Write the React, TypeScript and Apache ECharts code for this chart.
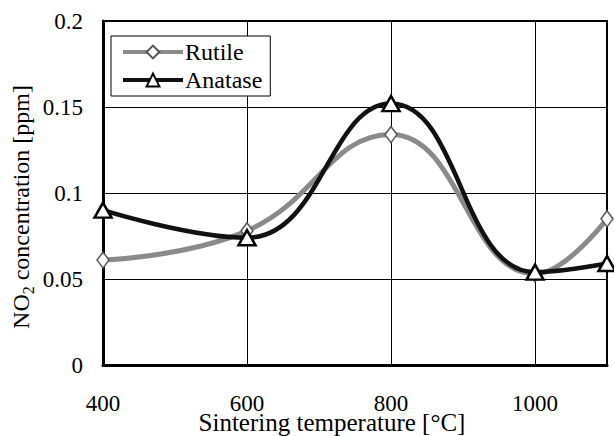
import React, { useEffect, useRef } from "react";
import * as echarts from "echarts";

const temperatures = [400, 600, 800, 1000, 1100];
const rutile = [0.061, 0.078, 0.134, 0.053, 0.085];
const anatase = [0.09, 0.074, 0.152, 0.054, 0.059];
const xTicks = [400, 600, 800, 1000];
const seriesNames = ["Rutile", "Anatase"];

const FONT = "'Liberation Serif', 'Times New Roman', serif";

export default function App() {
  const ref = useRef<HTMLDivElement>(null);
  useEffect(() => {
    if (!ref.current) return;
    const chart = echarts.init(ref.current, undefined, { renderer: "svg" });
    const pair = (ys: number[]) => temperatures.map((t, i) => [t, ys[i]]);
    chart.setOption({
      animation: false,
      backgroundColor: "#fff",
      grid: {
        left: 103,
        right: 7,
        top: 21,
        bottom: 71,
        show: true,
        borderColor: "#000",
        borderWidth: 2,
        backgroundColor: "transparent",
      },
      legend: {
        orient: "vertical",
        left: 111,
        top: 36,
        data: seriesNames,
        backgroundColor: "#fff",
        borderColor: "#000",
        borderWidth: 1,
        borderRadius: 0,
        padding: [3, 8, 3, 10],
        itemGap: 2,
        itemWidth: 60,
        itemHeight: 16,
        lineStyle: { width: 4 },
        textStyle: {
          fontFamily: FONT,
          fontSize: 24,
          lineHeight: 26,
          color: "#000",
          padding: [0, 0, 0, -3],
        },
      },
      xAxis: {
        type: "value",
        min: 400,
        max: 1100,
        interval: 200,
        axisLine: { show: true, onZero: false, lineStyle: { color: "#000", width: 3 } },
        axisTick: { show: false },
        splitLine: { show: true, lineStyle: { color: "#000", width: 1 } },
        axisLabel: {
          show: true,
          margin: 27,
          showMaxLabel: false,
          fontFamily: FONT,
          fontSize: 23,
          color: "#000",
          formatter: (v: number) => (xTicks.includes(v) ? String(v) : ""),
        },
      },
      yAxis: {
        type: "value",
        min: 0,
        max: 0.2,
        interval: 0.05,
        axisLine: { show: true, lineStyle: { color: "#000", width: 3 } },
        axisTick: { show: false },
        splitLine: { show: true, lineStyle: { color: "#000", width: 1 } },
        axisLabel: {
          margin: 20,
          fontFamily: FONT,
          fontSize: 23,
          color: "#000",
          formatter: (v: number) => String(Math.round(v * 100) / 100),
        },
      },
      graphic: [
        {
          type: "text",
          x: 332,
          y: 422,
          style: {
            text: "Sintering temperature [°C]",
            fontFamily: FONT,
            fontSize: 25,
            fill: "#000",
            align: "center",
            verticalAlign: "middle",
          },
        },
        {
          type: "text",
          x: 21,
          y: 207,
          rotation: Math.PI / 2,
          style: {
            text: "NO{sub|2} concentration [ppm]",
            fontFamily: FONT,
            fontSize: 24,
            lineHeight: 30,
            fill: "#000",
            align: "center",
            verticalAlign: "middle",
            rich: {
              sub: { fontFamily: FONT, fontSize: 16, verticalAlign: "bottom", fill: "#000" },
            },
          },
        },
      ],
      series: [
        {
          name: "Rutile",
          type: "line",
          data: pair(rutile),
          smooth: 0.45,
          symbol: "diamond",
          symbolSize: [12, 16],
          lineStyle: { color: "#8a8a8a", width: 5 },
          itemStyle: { color: "#fff", borderColor: "#555", borderWidth: 1.5 },
          z: 3,
        },
        {
          name: "Anatase",
          type: "line",
          data: pair(anatase),
          smooth: 0.45,
          symbol: "triangle",
          symbolSize: [17, 15],
          lineStyle: { color: "#111", width: 4.5 },
          itemStyle: { color: "#fff", borderColor: "#000", borderWidth: 2.5 },
          z: 4,
        },
      ],
    });
    return () => chart.dispose();
  }, []);
  return <div ref={ref} style={{ width: 614, height: 436, position: "absolute", left: 0, top: 0 }} />;
}
